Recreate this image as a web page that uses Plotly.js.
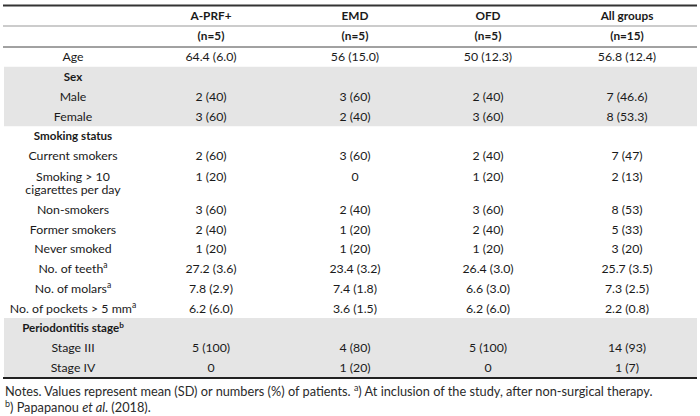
<!DOCTYPE html>
<html>
<head>
<meta charset="utf-8">
<script src="https://cdn.plot.ly/plotly-3.0.1.min.js"></script>
<style>
  body { margin: 0; background: #fff; }
  #plotlyArea { width: 700px; height: 416px; }
</style>
</head>
<body>
<div id="plotlyArea"></div>
<script>
// table content
var groupNames = ['A-PRF+', 'EMD', 'OFD', 'All groups'];
var groupN = ['(n=5)', '(n=5)', '(n=5)', '(n=15)'];
var rowLabels = ['Age', 'Sex', 'Male', 'Female', 'Smoking status', 'Current smokers',
    'Smoking > 10<br>cigarettes per day', 'Non-smokers', 'Former smokers', 'Never smoked',
    'No. of teeth<sup>a</sup>', 'No. of molars<sup>a</sup>', 'No. of pockets > 5 mm<sup>a</sup>',
    'Periodontitis stage<sup>b</sup>', 'Stage III', 'Stage IV'];
var aprf = ['64.4 (6.0)', '', '2 (40)', '3 (60)', '', '2 (60)', '1 (20)', '3 (60)', '2 (40)', '1 (20)',
    '27.2 (3.6)', '7.8 (2.9)', '6.2 (6.0)', '', '5 (100)', '0'];
var emd = ['56 (15.0)', '', '3 (60)', '2 (40)', '', '3 (60)', '0', '2 (40)', '1 (20)', '1 (20)',
    '23.4 (3.2)', '7.4 (1.8)', '3.6 (1.5)', '', '4 (80)', '1 (20)'];
var ofd = ['50 (12.3)', '', '2 (40)', '3 (60)', '', '2 (40)', '1 (20)', '3 (60)', '2 (40)', '1 (20)',
    '26.4 (3.0)', '6.6 (3.0)', '6.2 (6.0)', '', '5 (100)', '0'];
var allGroups = ['56.8 (12.4)', '', '7 (46.6)', '8 (53.3)', '', '7 (47)', '2 (13)', '8 (53)', '5 (33)', '3 (20)',
    '25.7 (3.5)', '7.3 (2.5)', '2.2 (0.8)', '', '14 (93)', '1 (7)'];
var sectionRows = ['Sex', 'Smoking status', 'Periodontitis stage<sup>b</sup>'];
var shadedRows = ['Sex', 'Male', 'Female', 'Periodontitis stage<sup>b</sup>', 'Stage III', 'Stage IV'];
var notes = ['Notes. Values represent mean (SD) or numbers (%) of patients. <sup>a</sup>) At inclusion of the study, after non-surgical therapy.',
    '<sup>b</sup>) Papapanou <i>et al</i>. (2018).'];

// layout (pixel units)
var colX = [73, 211, 355, 488, 627];
var rowH = 19.8, tallH = 33.5, bodyTop = 47, lineGap = 12.8, textShift = 1.5;
var txt = '#1a1a1a';
var fontFam = 'Lato, "Noto Sans", sans-serif';
var fs = 12.3, fsBold = 11.6;

var tops = [], hs = [];
var yy = bodyTop;
rowLabels.forEach(function(l){
    var h = l.indexOf('<br>') >= 0 ? tallH : rowH;
    tops.push(yy); hs.push(h); yy += h;
});
var bodyEnd = yy;
function firstLineY(i){
    return (hs[i] > rowH ? tops[i] + 10.5 : tops[i] + hs[i] / 2) + textShift;
}

// header trace
var hx = [], hy = [], ht = [];
groupNames.forEach(function(g, j){
    hx.push(colX[j + 1]); hy.push(17.5); ht.push(g);
    hx.push(colX[j + 1]); hy.push(37.5); ht.push(groupN[j]);
});

var lx = [], ly = [], lt = [], bx = [], by = [], bt = [];
rowLabels.forEach(function(l, i){
    var parts = l.split('<br>');
    parts.forEach(function(p, k){
        var y = firstLineY(i) + k * lineGap;
        if (sectionRows.indexOf(l) >= 0) { bx.push(colX[0]); by.push(y); bt.push(p); }
        else { lx.push(colX[0]); ly.push(y); lt.push(p); }
    });
});

var vx = [], vy = [], vt = [];
[aprf, emd, ofd, allGroups].forEach(function(col, j){
    col.forEach(function(v, i){
        if (v === '') return;
        vx.push(colX[j + 1]); vy.push(firstLineY(i)); vt.push(v);
    });
});

function textTrace(x, y, t, size, bold){
    return {
        x: x, y: y, text: t, mode: 'text', type: 'scatter',
        textposition: 'middle center', hoverinfo: 'skip', showlegend: false,
        textfont: {family: fontFam, size: size, color: txt, weight: bold ? 'bold' : 'normal'}
    };
}

var data = [
    textTrace(hx, hy, ht, fsBold + 0.2, true),
    textTrace(bx, by, bt, fsBold, true),
    textTrace(lx, ly, lt, fs, false),
    textTrace(vx, vy, vt, fs, false)
];

var shapes = [];
// gray bands
var bandStart = null;
rowLabels.forEach(function(l, i){
    var sh = shadedRows.indexOf(l) >= 0;
    if (sh && bandStart === null) bandStart = tops[i];
    var nextSh = i + 1 < rowLabels.length && shadedRows.indexOf(rowLabels[i + 1]) >= 0;
    if (sh && !nextSh) {
        shapes.push({type: 'rect', xref: 'x', yref: 'y', x0: 4, x1: 697, y0: bandStart, y1: tops[i] + hs[i],
            fillcolor: '#e5e5e5', line: {width: 0}, layer: 'below'});
        bandStart = null;
    }
});
function rule(y, w, c){
    shapes.push({type: 'line', xref: 'x', yref: 'y', x0: 3, x1: 697, y0: y, y1: y, line: {color: c, width: w}});
}
rule(5.5, 2, '#333');
rule(26, 1, '#999');
rule(bodyTop, 1, '#444');
rule(bodyEnd + 0.5, 2, '#222');

var annotations = notes.map(function(n, k){
    return {text: n, xref: 'x', yref: 'y', x: 3, y: 390.5 + k * 15.5, xanchor: 'left', yanchor: 'middle',
        showarrow: false, font: {family: fontFam, size: 12.75, color: '#2a2a2a'}};
});

var layout = {
    width: 700, height: 416,
    margin: {l: 0, r: 0, t: 0, b: 0},
    paper_bgcolor: '#fff', plot_bgcolor: '#fff',
    xaxis: {range: [0, 700], visible: false, fixedrange: true},
    yaxis: {range: [416, 0], visible: false, fixedrange: true},
    shapes: shapes,
    annotations: annotations
};

Plotly.newPlot('plotlyArea', data, layout, {staticPlot: true});
</script>
</body>
</html>
